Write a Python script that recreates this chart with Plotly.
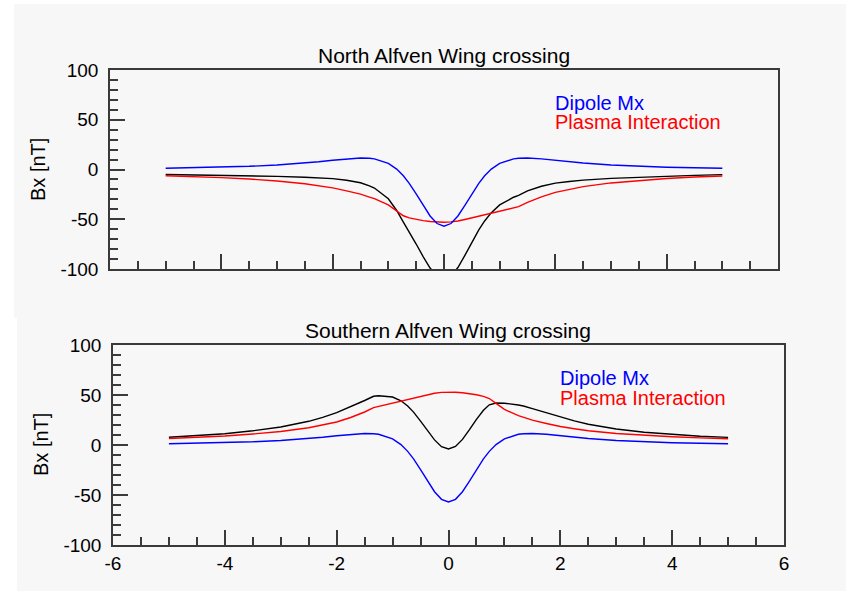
import plotly.graph_objects as go

# ---- data ----
x_pos = [-5, -4.5, -4, -3.5, -3, -2.5, -2.25, -2, -1.75, -1.5, -1.34, -1.25, -1, -0.85, -0.73,
         -0.625, -0.5, -0.375, -0.25, -0.125, 0, 0.125, 0.25, 0.375, 0.5, 0.625,
         0.73, 0.85, 1, 1.25, 1.34, 1.5, 1.75, 2, 2.25, 2.5, 3, 3.5, 4, 4.5, 5]

dipole_mx = [1.3, 1.7, 2.3, 3.2, 4.55, 6.5, 7.8, 9.3, 10.7, 11.5, 11.3, 10.7, 6.2, 0.4, -6.35,
             -13.9, -24.6, -36.1, -46.7, -54.3, -57.0, -54.3, -46.7, -36.1, -24.6, -13.9,
             -6.35, 0.4, 6.2, 10.7, 11.3, 11.5, 10.7, 9.3, 7.8, 6.5, 4.55, 3.2, 2.3, 1.7, 1.3]

north_plasma = [-6.3, -7.1, -8.2, -9.6, -11.5, -14.3, -16.3, -18.5, -21.5, -24.8, -27.7, -29.3, -35.6, -41.6, -46.5,
                -48.6, -50.3, -51.4, -52.3, -52.8, -53.0, -52.6, -51.8, -50.2, -48.5, -46.8,
                -45.3, -43.8, -41.8, -38.6, -37.4, -33.0, -27.5, -23.0, -19.8, -17.2, -13.5, -11.0, -9.0, -7.6, -6.5]

north_total = [-5.0, -5.4, -5.9, -6.4, -6.95, -7.8, -8.5, -9.2, -10.8, -13.3, -16.4, -18.6, -29.4, -41.2, -52.9,
               -62.5, -74.9, -87.5, -99.0, -107.1, -110.0, -106.9, -98.5, -86.3, -73.1, -60.7,
               -51.7, -43.4, -35.6, -27.9, -26.1, -21.5, -16.8, -13.7, -12.0, -10.7, -8.95, -7.8, -6.7, -5.9, -5.2]

south_plasma = [6.5, 7.6, 9.0, 11.0, 13.5, 17.2, 19.8, 23.0, 27.5, 33.0, 37.4, 38.6, 41.8, 43.8, 45.3,
                46.8, 48.5, 50.2, 51.8, 52.6, 53.0, 52.8, 52.3, 51.4, 50.3, 48.6,
                46.5, 41.6, 35.6, 29.3, 27.7, 24.8, 21.5, 18.5, 16.3, 14.3, 11.5, 9.6, 8.2, 7.1, 6.3]

south_total = [7.8, 9.3, 11.3, 14.2, 18.05, 23.7, 27.6, 32.3, 38.2, 44.5, 48.7, 49.3, 48.0, 44.2, 38.95,
               32.9, 23.9, 14.1, 5.1, -1.7, -4.0, -1.5, 5.6, 15.3, 25.7, 34.7,
               40.15, 42.0, 41.8, 40.0, 39.0, 36.3, 32.2, 27.8, 24.1, 20.8, 16.05, 12.8, 10.5, 8.8, 7.6]

titles = ["North Alfven Wing crossing", "Southern Alfven Wing crossing"]
legend_labels = ["Dipole Mx", "Plasma Interaction"]
y_title = "Bx [nT]"
x_ticks = [-6, -4, -2, 0, 2, 4, 6]
y_ticks = [-100, -50, 0, 50, 100]

# ---- figure ----
W, H = 846, 591
BG = "#f7f7f7"
AX = "#3a3a3a"
FONT = "Liberation Sans, Arial, Helvetica, sans-serif"


def px_x(p):
    return p / W


def px_y(p):
    return (H - p) / H


fig = go.Figure()

panels = [
    dict(x0=110, x1=778, y0=70, y1=269, total=north_total, plasma=north_plasma, xa="x", ya="y"),
    dict(x0=113, x1=784, y0=345, y1=545, total=south_total, plasma=south_plasma, xa="x2", ya="y2"),
]

for p in panels:
    fig.add_trace(go.Scatter(x=x_pos, y=p["total"], mode="lines",
                             line=dict(color="black", width=1.4),
                             xaxis=p["xa"], yaxis=p["ya"], showlegend=False, hoverinfo="skip"))
    fig.add_trace(go.Scatter(x=x_pos, y=p["plasma"], mode="lines",
                             line=dict(color="#ff0000", width=1.4),
                             xaxis=p["xa"], yaxis=p["ya"], showlegend=False, hoverinfo="skip"))
    fig.add_trace(go.Scatter(x=x_pos, y=dipole_mx, mode="lines",
                             line=dict(color="#0000ff", width=1.4),
                             xaxis=p["xa"], yaxis=p["ya"], showlegend=False, hoverinfo="skip"))

axis_common = dict(showgrid=False, zeroline=False, showline=True, linecolor=AX, linewidth=1.5, mirror=True,
                   ticks="inside", tickcolor=AX, tickwidth=1.5, ticklen=15, automargin=False,
                   tickfont=dict(family=FONT, size=19, color="black"))

layout = dict(
    template="none",
    width=W, height=H, autosize=False, margin=dict(l=0, r=0, t=0, b=0, pad=0),
    paper_bgcolor="white", plot_bgcolor="rgba(0,0,0,0)",
    showlegend=False,
    font=dict(family=FONT, color="black"),
)

for i, p in enumerate(panels):
    sfx = "" if i == 0 else "2"
    layout["xaxis" + sfx] = dict(axis_common, domain=[px_x(p["x0"]), px_x(p["x1"])], range=[-6, 6],
                                 tickvals=x_ticks, ticktext=[str(v) for v in x_ticks],
                                 minor=dict(dtick=0.5, tick0=0, ticks="inside", ticklen=8, tickcolor=AX, tickwidth=1.5),
                                 anchor="y" + sfx, ticklabelstandoff=0)
    layout["yaxis" + sfx] = dict(axis_common, domain=[px_y(p["y1"]), px_y(p["y0"])], range=[-100, 100],
                                 tickvals=y_ticks, ticktext=[str(v) for v in y_ticks],
                                 minor=dict(dtick=10, tick0=0, ticks="inside", ticklen=8, tickcolor=AX, tickwidth=1.5),
                                 anchor="x" + sfx, ticklabelstandoff=6)

fig.update_layout(**layout)

# background panels
fig.add_shape(type="rect", xref="paper", yref="paper", x0=px_x(14), x1=1, y0=px_y(318), y1=px_y(4),
              fillcolor=BG, line=dict(width=0), layer="below")
fig.add_shape(type="rect", xref="paper", yref="paper", x0=px_x(17), x1=1, y0=0, y1=px_y(318),
              fillcolor=BG, line=dict(width=0), layer="below")
# the top panel's x tick labels are cut off in the reference
fig.add_shape(type="rect", xref="paper", yref="paper", x0=px_x(14), x1=1, y0=px_y(318), y1=px_y(280),
              fillcolor=BG, line=dict(width=0), layer="above")

# titles
fig.add_annotation(text=titles[0], xref="paper", yref="paper", x=px_x(444), y=px_y(55), showarrow=False,
                   font=dict(size=21, family=FONT, color="black"), xanchor="center", yanchor="middle")
fig.add_annotation(text=titles[1], xref="paper", yref="paper", x=px_x(448), y=px_y(330), showarrow=False,
                   font=dict(size=21, family=FONT, color="black"), xanchor="center", yanchor="middle")

# y-axis titles
fig.add_annotation(text=y_title, xref="paper", yref="paper", x=px_x(38), y=px_y(170), showarrow=False, textangle=-90,
                   font=dict(size=20, family=FONT, color="black"), xanchor="center", yanchor="middle")
fig.add_annotation(text=y_title, xref="paper", yref="paper", x=px_x(41), y=px_y(445), showarrow=False, textangle=-90,
                   font=dict(size=20, family=FONT, color="black"), xanchor="center", yanchor="middle")

# in-plot legends
for xa, ya in [("x", "y"), ("x2", "y2")]:
    fig.add_annotation(text=legend_labels[0], xref=xa, yref=ya, x=1.98, y=67, showarrow=False, borderpad=0,
                       font=dict(size=20, family=FONT, color="#0000ff"), xanchor="left", yanchor="middle")
    fig.add_annotation(text=legend_labels[1], xref=xa, yref=ya, x=1.98, y=47.5, showarrow=False, borderpad=0,
                       font=dict(size=20, family=FONT, color="#ff0000"), xanchor="left", yanchor="middle")

fig.write_html("out.html", config={"displayModeBar": False},
               post_script="document.body.style.margin='0px';document.body.style.overflow='hidden';")
